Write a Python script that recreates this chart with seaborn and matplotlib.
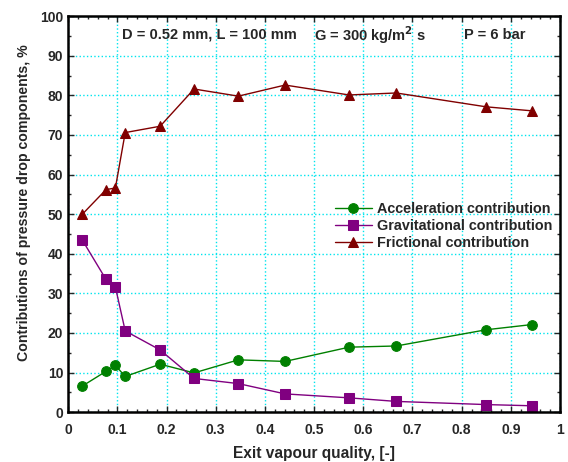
import matplotlib
matplotlib.use("Agg")
import matplotlib.pyplot as plt
import seaborn as sns
import pandas as pd
from matplotlib.ticker import MultipleLocator

# Data
x_q = [0.029, 0.077, 0.096, 0.116, 0.187, 0.256, 0.346, 0.441, 0.571, 0.667, 0.850, 0.942]
acceleration = [6.6, 10.3, 11.8, 9.0, 12.1, 9.9, 13.2, 12.8, 16.4, 16.7, 20.8, 22.1]
gravitational = [43.4, 33.5, 31.6, 20.5, 15.7, 8.5, 7.2, 4.6, 3.6, 2.7, 1.9, 1.6]
frictional = [50.0, 56.2, 56.6, 70.6, 72.2, 81.6, 79.8, 82.6, 80.1, 80.6, 77.1, 76.1]

series_names = ["Acceleration contribution", "Gravitational contribution", "Frictional contribution"]
x_ticks = [0, 0.1, 0.2, 0.3, 0.4, 0.5, 0.6, 0.7, 0.8, 0.9, 1.0]
x_tick_labels = ["0", "0.1", "0.2", "0.3", "0.4", "0.5", "0.6", "0.7", "0.8", "0.9", "1"]
y_ticks = [0, 10, 20, 30, 40, 50, 60, 70, 80, 90, 100]

sns.set_theme(style="ticks")
plt.rcParams['font.family'] = ['Liberation Sans', 'DejaVu Sans']
plt.rcParams['font.weight'] = 'bold'

fig = plt.figure(figsize=(5.68, 4.62), dpi=100)
ax = fig.add_axes([0.120, 0.108, 0.866, 0.857])

ax.grid(True, which='major', color='#00E5EE', linestyle=':', linewidth=1.0)
ax.set_axisbelow(True)

styles = [
    (acceleration, '#008000', 'o', 7),
    (gravitational, '#800080', 's', 6.5),
    (frictional, '#800000', '^', 7.5),
]
for name, (vals, col, mk, ms) in zip(series_names, styles):
    df = pd.DataFrame({'x': x_q, 'y': vals})
    sns.lineplot(data=df, x='x', y='y', ax=ax, color=col, marker=mk,
                 markersize=ms, markeredgecolor=col, linewidth=1.0,
                 sort=False, estimator=None, label=name)

ax.set_xlim(0, 1.0)
ax.set_ylim(0, 100)
ax.set_xticks(x_ticks)
ax.set_xticklabels(x_tick_labels)
ax.set_yticks(y_ticks)
ax.xaxis.set_minor_locator(MultipleLocator(0.02))
ax.yaxis.set_minor_locator(MultipleLocator(5))
ax.tick_params(which='both', direction='in', top=True, right=True, labelsize=10, width=1.0)
ax.tick_params(which='major', length=4)
ax.tick_params(which='minor', length=2.5)
ax.tick_params(axis='x', pad=8)
for lab in ax.get_xticklabels() + ax.get_yticklabels():
    lab.set_fontweight('bold')
for sp in ax.spines.values():
    sp.set_linewidth(1.8)
    sp.set_color('black')

ax.set_xlabel("Exit vapour quality, [-]", fontsize=11.2, fontweight='bold', labelpad=6)
ax.set_ylabel("Contributions of pressure drop components, %", fontsize=10.2, fontweight='bold')
ax.yaxis.set_label_coords(-0.075, 0.528)

ax.text(0.11, 95.3, "D = 0.52 mm, L = 100 mm", fontsize=10.5, fontweight='bold', va='center')
ax.text(0.50, 95.3, r"G = 300 kg/m$^\mathbf{2}$ s", fontsize=10.5, fontweight='bold', va='center')
ax.text(0.805, 95.3, "P = 6 bar", fontsize=10.5, fontweight='bold', va='center')

leg = ax.legend(loc='upper left', bbox_to_anchor=(0.53, 0.545), frameon=False,
                fontsize=10.4, handlelength=2.6, handletextpad=0.3, labelspacing=0.22,
                borderaxespad=0)
for t in leg.get_texts():
    t.set_fontweight('bold')

fig.savefig("out.png", dpi=100)
